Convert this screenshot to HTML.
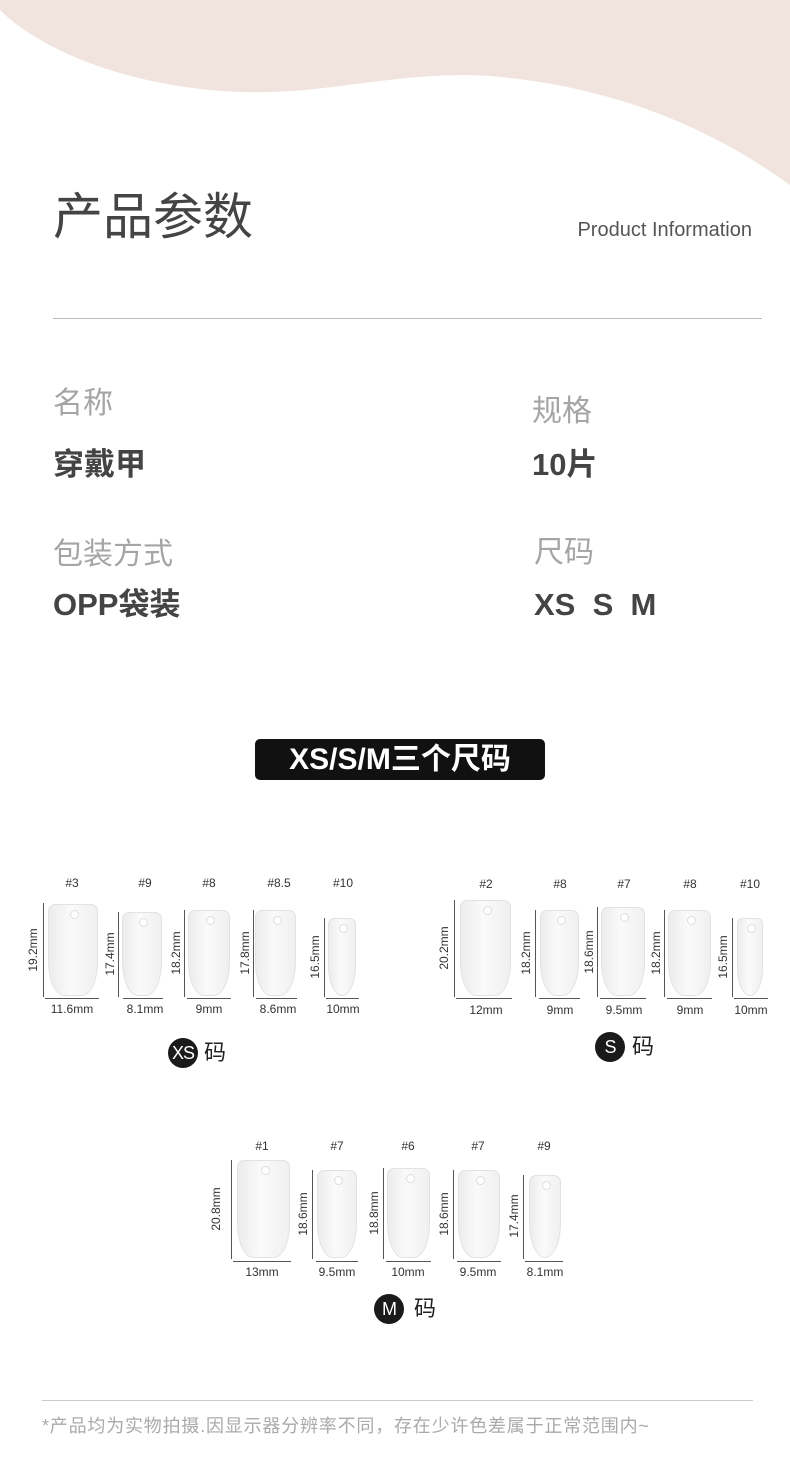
<!DOCTYPE html>
<html><head><meta charset="utf-8">
<style>
*{margin:0;padding:0;box-sizing:border-box}
body{width:790px;height:1472px;position:relative;background:#fff;overflow:hidden;font-family:"Liberation Sans","Noto Sans CJK SC",sans-serif}
.t{position:absolute;white-space:nowrap;line-height:1}
.g{color:#a5a5a5;font-size:30px}
.b{color:#444;font-size:31px;font-weight:bold}
.n{position:absolute;background:linear-gradient(90deg,#ececec,#fafafa 45%,#f0f0f0);border:1px solid #e2e2e2;border-radius:7px 7px 16px 16px/7px 7px 34px 34px}
.n:after{content:"";position:absolute;left:50%;top:5px;width:7px;height:7px;margin-left:-3px;border-radius:50%;background:#fff;border:1px solid #ddd}
.v{position:absolute;width:1px;background:#555}
.h{position:absolute;height:1px;background:#555}
.l{position:absolute;font-size:12px;color:#333;white-space:nowrap;line-height:1;transform:translateX(-50%)}
.r{position:absolute;font-size:12px;color:#333;white-space:nowrap;line-height:1;transform:translate(-50%,-50%) rotate(-90deg)}
.c{position:absolute;width:30px;height:30px;border-radius:50%;background:#1a1a1a;color:#fff;font-size:18px;text-align:center;line-height:30px;letter-spacing:-1px}
.m{position:absolute;font-size:22px;color:#222;line-height:1}
</style></head><body>
<svg style="position:absolute;left:0;top:0" width="790" height="200"><path d="M0 0 H790 V185 C700 120 600 85 490 76 C400 70 330 95 240 92 C130 88 40 50 0 10 Z" fill="#f1e4de"/></svg>

<div class="t" style="left:53px;top:192px;font-size:50px;color:#444">产品参数</div>
<div class="t" style="right:38px;top:220px;font-size:20px;color:#555">Product Information</div>
<div style="position:absolute;left:53px;top:318px;width:709px;height:1px;background:#bbb"></div>

<div class="t g" style="left:53px;top:389px">名称</div>
<div class="t b" style="left:53px;top:449px">穿戴甲</div>
<div class="t g" style="left:532px;top:397px">规格</div>
<div class="t b" style="left:532px;top:449px">10片</div>
<div class="t g" style="left:53px;top:540px">包装方式</div>
<div class="t b" style="left:53px;top:589px">OPP袋装</div>
<div class="t g" style="left:534px;top:538px">尺码</div>
<div class="t b" style="left:534px;top:589px">XS&nbsp; S&nbsp; M</div>

<div style="position:absolute;left:255px;top:739px;width:290px;height:41px;background:#111;border-radius:5px;color:#fff;font-size:30px;font-weight:bold;text-align:center;line-height:41px;letter-spacing:0px">XS/S/M三个尺码</div>

<!-- XS -->
<div class="l" style="left:72px;top:877px">#3</div>
<div class="l" style="left:145px;top:877px">#9</div>
<div class="l" style="left:209px;top:877px">#8</div>
<div class="l" style="left:279px;top:877px">#8.5</div>
<div class="l" style="left:343px;top:877px">#10</div>
<div class="n" style="left:48px;top:904px;width:50px;height:92px"></div>
<div class="n" style="left:122px;top:912px;width:40px;height:84px"></div>
<div class="n" style="left:188px;top:910px;width:42px;height:86px"></div>
<div class="n" style="left:255px;top:910px;width:41px;height:86px"></div>
<div class="n" style="left:328px;top:918px;width:28px;height:78px"></div>
<div class="v" style="left:43px;top:903px;height:94px"></div>
<div class="v" style="left:118px;top:912px;height:85px"></div>
<div class="v" style="left:184px;top:910px;height:87px"></div>
<div class="v" style="left:253px;top:910px;height:87px"></div>
<div class="v" style="left:324px;top:918px;height:79px"></div>
<div class="r" style="left:33px;top:950px">19.2mm</div>
<div class="r" style="left:110px;top:954px">17.4mm</div>
<div class="r" style="left:176px;top:953px">18.2mm</div>
<div class="r" style="left:245px;top:953px">17.8mm</div>
<div class="r" style="left:315px;top:957px">16.5mm</div>
<div class="h" style="left:45px;top:998px;width:54px"></div>
<div class="h" style="left:123px;top:998px;width:40px"></div>
<div class="h" style="left:187px;top:998px;width:44px"></div>
<div class="h" style="left:256px;top:998px;width:41px"></div>
<div class="h" style="left:326px;top:998px;width:33px"></div>
<div class="l" style="left:72px;top:1003px">11.6mm</div>
<div class="l" style="left:145px;top:1003px">8.1mm</div>
<div class="l" style="left:209px;top:1003px">9mm</div>
<div class="l" style="left:278px;top:1003px">8.6mm</div>
<div class="l" style="left:343px;top:1003px">10mm</div>
<div class="c" style="left:168px;top:1038px">XS</div>
<div class="m" style="left:204px;top:1042px">码</div>

<!-- S -->
<div class="l" style="left:486px;top:878px">#2</div>
<div class="l" style="left:560px;top:878px">#8</div>
<div class="l" style="left:624px;top:878px">#7</div>
<div class="l" style="left:690px;top:878px">#8</div>
<div class="l" style="left:750px;top:878px">#10</div>
<div class="n" style="left:460px;top:900px;width:51px;height:96px"></div>
<div class="n" style="left:540px;top:910px;width:39px;height:86px"></div>
<div class="n" style="left:601px;top:907px;width:44px;height:89px"></div>
<div class="n" style="left:668px;top:910px;width:43px;height:86px"></div>
<div class="n" style="left:737px;top:918px;width:26px;height:78px"></div>
<div class="v" style="left:454px;top:900px;height:97px"></div>
<div class="v" style="left:535px;top:910px;height:87px"></div>
<div class="v" style="left:597px;top:907px;height:90px"></div>
<div class="v" style="left:664px;top:910px;height:87px"></div>
<div class="v" style="left:732px;top:918px;height:79px"></div>
<div class="r" style="left:444px;top:948px">20.2mm</div>
<div class="r" style="left:526px;top:953px">18.2mm</div>
<div class="r" style="left:589px;top:952px">18.6mm</div>
<div class="r" style="left:656px;top:953px">18.2mm</div>
<div class="r" style="left:723px;top:957px">16.5mm</div>
<div class="h" style="left:456px;top:998px;width:56px"></div>
<div class="h" style="left:539px;top:998px;width:41px"></div>
<div class="h" style="left:600px;top:998px;width:46px"></div>
<div class="h" style="left:667px;top:998px;width:45px"></div>
<div class="h" style="left:734px;top:998px;width:34px"></div>
<div class="l" style="left:486px;top:1004px">12mm</div>
<div class="l" style="left:560px;top:1004px">9mm</div>
<div class="l" style="left:624px;top:1004px">9.5mm</div>
<div class="l" style="left:690px;top:1004px">9mm</div>
<div class="l" style="left:751px;top:1004px">10mm</div>
<div class="c" style="left:595px;top:1032px">S</div>
<div class="m" style="left:632px;top:1036px">码</div>

<!-- M -->
<div class="l" style="left:262px;top:1140px">#1</div>
<div class="l" style="left:337px;top:1140px">#7</div>
<div class="l" style="left:408px;top:1140px">#6</div>
<div class="l" style="left:478px;top:1140px">#7</div>
<div class="l" style="left:544px;top:1140px">#9</div>
<div class="n" style="left:237px;top:1160px;width:53px;height:98px"></div>
<div class="n" style="left:317px;top:1170px;width:40px;height:88px"></div>
<div class="n" style="left:387px;top:1168px;width:43px;height:90px"></div>
<div class="n" style="left:458px;top:1170px;width:42px;height:88px"></div>
<div class="n" style="left:529px;top:1175px;width:32px;height:83px"></div>
<div class="v" style="left:231px;top:1160px;height:99px"></div>
<div class="v" style="left:312px;top:1170px;height:89px"></div>
<div class="v" style="left:383px;top:1168px;height:91px"></div>
<div class="v" style="left:453px;top:1170px;height:89px"></div>
<div class="v" style="left:523px;top:1175px;height:84px"></div>
<div class="r" style="left:216px;top:1209px">20.8mm</div>
<div class="r" style="left:303px;top:1214px">18.6mm</div>
<div class="r" style="left:374px;top:1213px">18.8mm</div>
<div class="r" style="left:444px;top:1214px">18.6mm</div>
<div class="r" style="left:514px;top:1216px">17.4mm</div>
<div class="h" style="left:233px;top:1261px;width:58px"></div>
<div class="h" style="left:316px;top:1261px;width:42px"></div>
<div class="h" style="left:386px;top:1261px;width:45px"></div>
<div class="h" style="left:457px;top:1261px;width:44px"></div>
<div class="h" style="left:525px;top:1261px;width:38px"></div>
<div class="l" style="left:262px;top:1266px">13mm</div>
<div class="l" style="left:337px;top:1266px">9.5mm</div>
<div class="l" style="left:408px;top:1266px">10mm</div>
<div class="l" style="left:478px;top:1266px">9.5mm</div>
<div class="l" style="left:545px;top:1266px">8.1mm</div>
<div class="c" style="left:374px;top:1294px">M</div>
<div class="m" style="left:414px;top:1298px">码</div>

<div style="position:absolute;left:42px;top:1400px;width:711px;height:1px;background:#ccc"></div>
<div class="t" style="left:42px;top:1417px;font-size:18px;letter-spacing:0.8px;color:#aaa">*产品均为实物拍摄.因显示器分辨率不同，存在少许色差属于正常范围内~</div>
</body></html>
